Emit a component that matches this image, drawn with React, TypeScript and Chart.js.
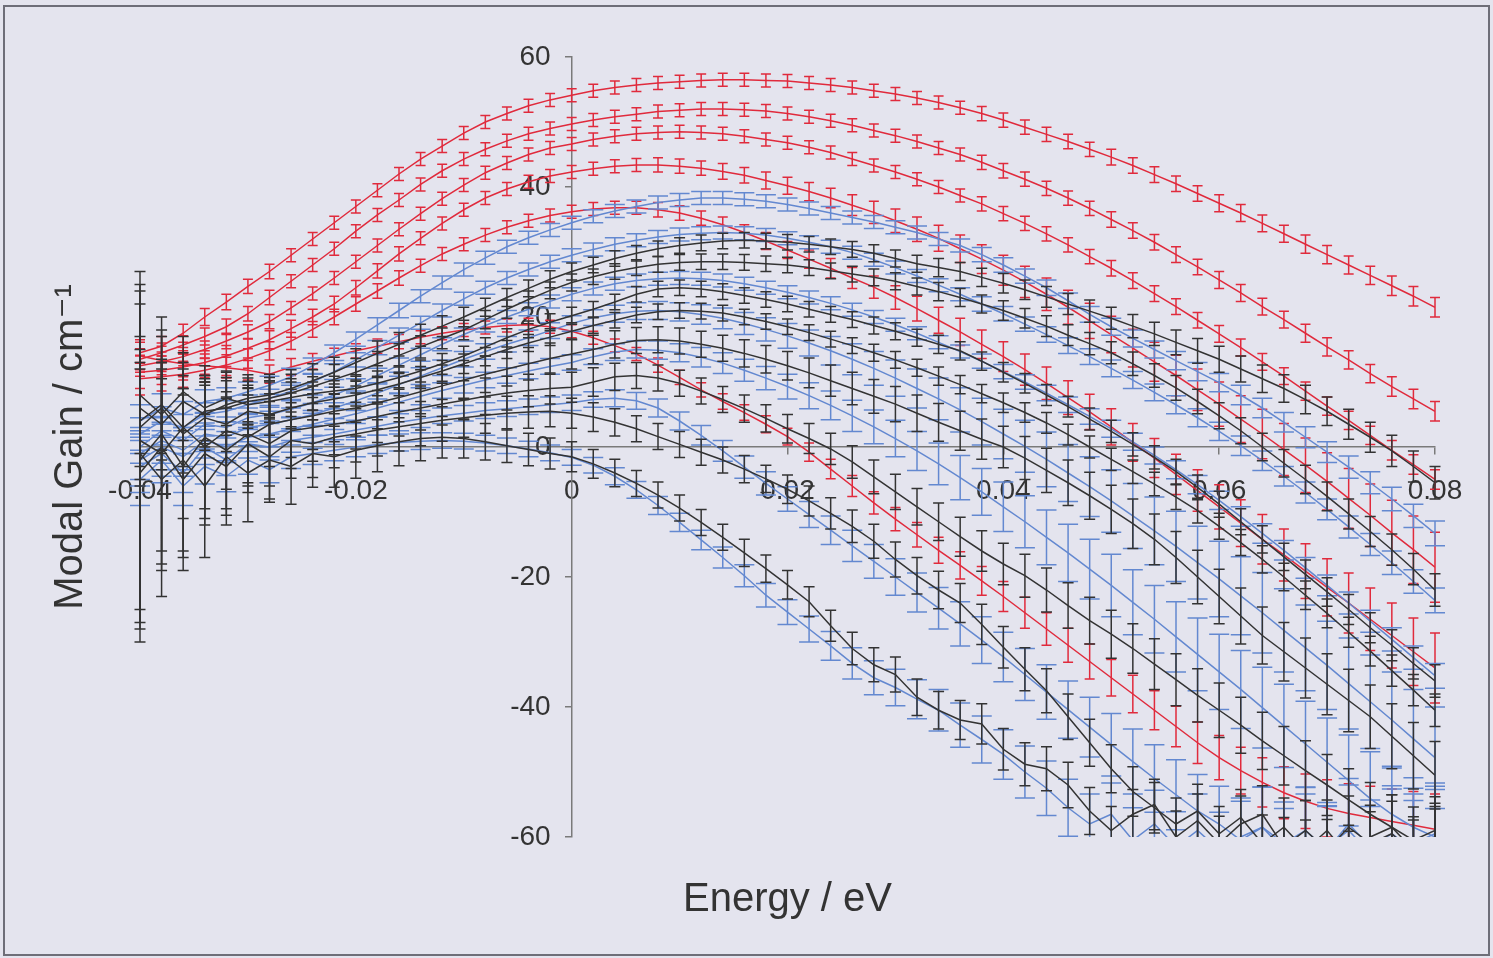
import React, { useEffect, useRef } from "react";
import { Chart, registerables } from "chart.js";

Chart.register(...registerables);

// Photon energy grid (eV)
const energy = [-0.04,-0.038,-0.036,-0.034,-0.032,-0.03,-0.028,-0.026,-0.024,-0.022,-0.02,-0.018,-0.016,-0.014,-0.012,-0.01,-0.008,-0.006,-0.004,-0.002,0,0.002,0.004,0.006,0.008,0.01,0.012,0.014,0.016,0.018,0.02,0.022,0.024,0.026,0.028,0.03,0.032,0.034,0.036,0.038,0.04,0.042,0.044,0.046,0.048,0.05,0.052,0.054,0.056,0.058,0.06,0.062,0.064,0.066,0.068,0.07,0.072,0.074,0.076,0.078,0.08];

// Red series (modal gain, cm^-1)
const red1 = [14.5,15.5,17.5,20,22.3,24.7,27,29.5,32,34.5,37,39.5,42,44.3,46.3,48.3,50,51.3,52.5,53.4,54.1,54.8,55.3,55.7,56,56.2,56.4,56.5,56.5,56.4,56.3,56,55.7,55.3,54.8,54.3,53.7,53,52.2,51.3,50.3,49.2,48.1,47,45.8,44.6,43.3,41.9,40.5,39,37.5,36,34.4,32.8,31.2,29.6,28,26.4,24.8,23.2,21.5];
const red2 = [13.5,14.5,15.7,17,18.5,20.5,23,25.5,28,30.5,33.2,35.7,38,40.4,42.5,44.3,45.8,47.1,48.2,49,49.7,50.3,50.8,51.2,51.6,51.8,52,52,51.9,51.7,51.3,50.8,50.2,49.5,48.7,47.9,47,46,45,43.8,42.5,41.2,39.8,38.3,36.7,35,33.3,31.5,29.6,27.7,25.7,23.7,21.6,19.6,17.5,15.4,13.4,11.3,9.3,7.4,5.5];
const red3 = [12.5,13.1,13.9,15,16.3,17.7,19.3,21.4,23.6,26,28.5,31,33.5,35.9,38.2,40.3,42.2,43.7,45,46,46.6,47.3,47.8,48.2,48.4,48.5,48.4,48.2,47.8,47.3,46.8,46.1,45.3,44.3,43.3,42.3,41.2,40,38.7,37.4,35.9,34.4,32.8,31.1,29.3,27.5,25.6,23.6,21.6,19.5,17.4,15.3,13.1,10.9,8.6,6.3,4.1,1.8,-0.5,-2.7,-5];
const red4 = [11.5,11.8,12.3,13,14,15.2,16.5,18.2,20,22,24.5,27.1,29.7,32.1,34.4,36.5,38.3,39.7,40.8,41.7,42.3,42.8,43.2,43.4,43.4,43.2,42.9,42.4,41.8,41,40.2,39.3,38.3,37.2,36.1,34.8,33.5,32.1,30.5,28.9,27.2,25.4,23.5,21.5,19.4,17.3,15.2,13.1,11,8.8,6.6,4.3,2,-0.4,-2.8,-5.3,-7.9,-10.5,-13.2,-15.8,-18.5];
const red5 = [10.5,10.8,11.2,11.8,12.6,13.6,14.8,16.3,18.1,20,22,24,26,27.9,29.7,31.2,32.6,33.8,34.8,35.6,36.2,36.6,36.8,36.8,36.5,36,35.2,34.2,33,31.7,30.3,28.9,27.5,26,24.6,23,21.3,19.5,17.7,15.8,13.9,11.9,9.8,7.6,5.4,3.1,0.7,-1.7,-4.2,-6.7,-9.2,-11.7,-14.2,-16.6,-19.1,-21.6,-24,-26.5,-29,-31.5,-34];
const red6 = [14,13.3,12.8,12.5,12.2,11.8,11.2,12.3,13.2,14,14.8,15.5,16.2,16.9,17.5,18,18.4,18.7,18.8,18.5,17.8,16.8,15.6,14.3,12.6,10.7,8.8,7,5.3,3.5,1.6,-0.8,-3.4,-6,-8.6,-11.1,-13.5,-15.9,-18.2,-20.6,-23,-25.5,-28,-30.5,-33,-35.5,-38,-40.5,-43,-45.5,-47.8,-49.8,-51.6,-53.2,-54.5,-55.6,-56.4,-57,-57.6,-58.2,-58.8];

// Black series
const black1 = [6,3.5,7,5,6.5,7.5,8,9,10.2,11.5,13,14.4,15.8,17.2,18.6,20,21.5,23,24.4,25.8,27,28,29,29.8,30.5,31,31.4,31.7,31.8,31.7,31.5,31.2,30.8,30.4,29.8,29,28.2,27.6,27,26.1,25.2,24.2,23.1,22,20.9,19.8,18.6,17.4,16.1,14.8,13.5,12,10.5,9,7.3,5.5,3.5,1.5,-0.6,-3,-5.5];
const black2 = [4,6.5,3,5.5,6,7,7.5,8.3,9.3,10.4,11.5,12.8,14.1,15.4,16.7,18,19.6,21.2,22.7,24.1,25.3,26.2,27,27.6,28.1,28.4,28.5,28.5,28.4,28.2,28,27.6,27.1,26.6,26.1,25.5,24.7,23.9,23,22,21,19.8,18.6,17.2,15.9,14.5,12.8,11,9.1,7,4.8,2.5,0,-2.5,-5,-7.6,-10.3,-13,-15.8,-18.8,-22];
const black3 = [8,5,8.5,6,7.5,6.5,7,7.6,8.2,8.6,9,9.8,10.7,11.7,12.8,14,15.4,16.8,18.1,19.2,20.2,21.2,22.3,23.5,24.3,24.5,24.3,23.9,23.3,22.7,22,21.2,20.4,19.6,18.7,17.8,16.8,15.8,14.8,13.2,11.5,9.8,8,6.2,4.3,2.4,0.4,-1.6,-3.8,-6.2,-8.8,-11.5,-14.2,-16.9,-19.6,-22.3,-25,-27.8,-30.5,-33.3,-36];
const black4 = [3,6,2,4.5,3.5,5.5,5,6,6.8,7.4,8,8.8,9.7,10.7,11.7,12.8,13.9,15,16,16.9,17.8,18.7,19.5,20.3,20.8,21,20.9,20.6,20,19.3,18.5,17.6,16.6,15.6,14.5,13.4,12.2,10.9,9.6,8.2,6.8,5.3,3.7,1.9,0,-1.9,-3.8,-5.7,-7.7,-9.8,-12.2,-14.7,-17.3,-20,-22.8,-25.6,-28.5,-31.4,-34.4,-37.4,-40.5];
const black5 = [1,-1,3,0,2.5,1.5,3.5,4.2,4.8,5.5,6,6.8,7.6,8.5,9.4,10.3,11.2,12,12.8,13.6,14.3,15,15.8,16.4,16.5,16.3,15.8,15.2,14.4,13.5,12.5,11.4,10.2,9,7.8,6.6,5.2,3.8,2.5,1.2,0,-1.7,-3.6,-5.5,-7.5,-9.6,-11.8,-14.2,-17,-20,-23,-26,-29,-31.5,-34,-36.5,-39,-41.5,-44.5,-47.5,-50.5];
const black6 = [-2,2,-3,1.5,-0.5,2,0.5,2.5,3,3.5,4,4.7,5.4,6,6.6,7.2,7.8,8.3,8.7,9,9.2,10,10.8,11,10.6,9.8,8.6,7.3,5.9,4.4,2.8,1.3,-0.3,-2.3,-4.6,-6.9,-9.2,-11.5,-13.8,-16,-18,-19.8,-22,-24.4,-26.7,-28.8,-31,-33.4,-35.8,-38.2,-40.5,-42.8,-45.2,-47.5,-49.8,-52,-54.3,-56.5,-58.5,-60.5,-59];
const black7 = [-4,0,-5,-1,-3,0.5,-1.5,1,0.5,1.5,2,2.6,3.1,3.6,4.1,4.5,4.9,5.2,5.4,5.5,5.2,4.6,3.8,2.8,1.6,0.4,-0.8,-2,-3.4,-4.9,-6.5,-8.3,-10.2,-12.2,-14.5,-17.3,-19.8,-22,-24,-27.3,-30.8,-34.2,-37.5,-41.5,-45.5,-49.5,-53,-55.5,-58,-56,-59.5,-57,-61,-58.5,-62,-59,-63,-60,-58.5,-62,-60.5];
const black8 = [-1,-5,-2,-6,-1.5,-4,-2,-3,-1,-1.5,-0.5,0.2,0.8,1.3,1.5,1.3,0.8,0.2,-0.4,-1,-1.5,-2.6,-4,-5.6,-7.4,-9.4,-11.6,-13.9,-16.3,-18.7,-21.2,-23.8,-27.5,-31,-33.5,-35,-38.5,-40.5,-42,-42.6,-46.5,-48.8,-49.5,-52,-56,-59,-56.5,-55,-60,-57.5,-61,-58,-56.5,-61.5,-59,-62,-58.5,-61,-59.5,-62.5,-60];

// Blue series
const blue1 = [4,6,5,7,7.5,8.5,9.5,10.8,12.5,14.5,16.6,18.8,21,23.2,25.3,27.3,29.1,30.8,32.2,33.4,34.5,35.5,36.3,37,37.6,38,38.3,38.3,38.1,37.8,37.3,36.7,36,35.3,34.6,33.8,33,32,31,29.6,28,26.3,24.5,22.5,20.4,18.5,16.7,15,13.3,11.6,9.9,8,6,3.8,1.5,-0.8,-3.1,-5.5,-8,-10.6,-13.3];
const blue2 = [2,4,3,5,5.5,6.5,7.5,8.6,10,11.6,13.4,15.3,17.2,19.1,21,22.8,24.5,26,27.3,28.5,29.5,30.4,31.2,31.8,32.3,32.7,32.9,33,32.9,32.6,32.1,31.5,30.8,29.9,28.8,27.6,26.3,24.9,23.5,22,20.5,18.9,17.3,15.6,13.9,12.1,10.3,8.4,6.5,4.5,2.4,0.2,-2.1,-4.5,-7,-9.6,-12.3,-15,-17.8,-20.7,-23.6];
const blue3 = [0,2.5,1,3.5,3,4.5,5,5.8,6.8,8,9.4,11,12.6,14.2,15.8,17.3,18.7,20,21.2,22.4,23.5,24.4,25.1,25.6,25.9,26,25.9,25.6,25.1,24.5,23.8,23,22.1,21.1,20,18.8,17.5,16.1,14.7,13.2,11.6,10,8.3,6.5,4.7,2.8,0.8,-1.3,-3.5,-5.8,-8.2,-10.7,-13.3,-15.9,-18.6,-21.3,-24,-26.8,-29.6,-32.4,-35.2];
const blue4 = [-1,1,-0.5,2,1.5,3,3.5,4.2,5,6,7.1,8.3,9.6,10.9,12.2,13.5,14.7,15.8,16.8,17.9,19,19.9,20.5,20.9,21,20.8,20.4,19.8,19,18.1,17.1,16,14.8,13.5,12.1,10.6,9,7.4,5.7,3.9,2,0.1,-1.9,-4,-6.1,-8.3,-10.6,-12.9,-15.3,-17.8,-20.3,-22.9,-25.5,-28.2,-30.9,-33.6,-36.4,-39.2,-42,-44.9,-47.8];
const blue5 = [-2,0,-1.5,1,0,1.5,2,2.8,3.5,4.3,5.1,6,6.9,7.8,8.7,9.5,10.3,11,11.7,12.4,13,13.9,14.6,15,14.9,14.5,13.8,12.9,11.8,10.6,9.3,7.9,6.4,4.8,3.1,1.3,-0.6,-2.6,-4.7,-6.9,-9.2,-11.5,-13.9,-16.3,-18.8,-21.3,-23.9,-26.5,-29.2,-31.9,-34.6,-37.3,-40.1,-42.9,-45.7,-48.5,-51.3,-54.1,-56.5,-58.5,-60];
const blue6 = [-3,-1,-4,0,-2,0.5,0,1,1.5,2,2.6,3.2,3.8,4.3,4.8,5.2,5.6,5.9,6.2,6.5,6.8,7.3,7.5,7.1,6,4,1.8,-0.6,-3.1,-5.6,-8,-10.4,-12.8,-15.2,-17.6,-20,-22.4,-24.8,-27.2,-29.7,-32.3,-35,-37.7,-40.4,-43.1,-45.8,-48.4,-51,-53.5,-56,-58,-60.5,-58.5,-61,-59,-62,-58,-61.5,-59.5,-62,-60.5];
const blue7 = [-5,-2,-6,-3,-4.5,-2,-3.5,-1.5,-1,-0.5,0,0.4,0.7,0.9,1,0.9,0.6,0.2,-0.3,-0.9,-1.6,-2.8,-4.5,-6.6,-9,-11.6,-14.3,-17,-19.8,-22.8,-25.4,-28,-30.6,-33.3,-35.5,-37,-38.8,-40.5,-42.8,-45,-47.3,-50,-52.5,-55.5,-58,-56.5,-60.5,-58,-61.5,-59,-62,-60,-58.5,-62,-60,-61.5,-59,-62.5,-60,-61,-59.5];

// Error (half-height of error bars, cm^-1)
const errRedHigh = [1.6,1.5,1.4,1.3,1.2,1.1,1.1,1,1,1,1,1,1,1,1,1,1,1,1,1,1,1,1,1,1,1,1,1,1,1,1,1,1,1,1,1,1,1,1,1.1,1.1,1.1,1.1,1.1,1.1,1.2,1.2,1.2,1.2,1.2,1.3,1.3,1.3,1.3,1.4,1.4,1.4,1.4,1.5,1.5,1.5];
const errRedLow = [2.5,2.2,2,1.8,1.6,1.5,1.4,1.3,1.2,1.2,1.1,1.1,1.1,1,1,1,1,1,1,1,1,1,1,1,1.1,1.1,1.1,1.2,1.2,1.3,1.3,1.4,1.5,1.6,1.7,1.8,1.9,2,2.1,2.2,2.3,2.4,2.5,2.6,2.7,2.8,2.9,3,3.1,3.2,3.4,3.6,3.8,4,4.2,4.4,4.6,4.8,5,5.2,5.4];
const errBlackHigh = [9,7,6,5,4.2,3.6,3.2,2.9,2.6,2.3,2.1,1.9,1.8,1.7,1.6,1.5,1.4,1.4,1.3,1.3,1.3,1.2,1.2,1.2,1.2,1.2,1.2,1.2,1.2,1.2,1.2,1.2,1.2,1.2,1.3,1.3,1.3,1.4,1.4,1.4,1.5,1.5,1.6,1.6,1.7,1.7,1.8,1.8,1.9,1.9,2,2,2.1,2.1,2.2,2.2,2.3,2.3,2.4,2.4,2.5];
const errBlackLow = [26,18,14,11,9,7.5,6.5,5.8,5.2,4.7,4.3,4,3.7,3.4,3.2,3,2.8,2.6,2.5,2.4,2.3,2.2,2.1,2,2,2,2,2,2.1,2.1,2.2,2.3,2.4,2.5,2.6,2.7,2.8,2.9,3,3.1,3.2,3.3,3.4,3.5,3.6,3.7,3.8,3.9,4,4.1,4.2,4.3,4.4,4.5,4.6,4.7,4.8,4.9,5,5.1,5.2];
const errBlueHigh = [2.5,2.2,2,1.8,1.6,1.5,1.4,1.3,1.2,1.2,1.1,1.1,1.1,1,1,1,1,1,1,1,1,1,1,1,1,1,1,1,1,1,1,1,1,1,1,1,1,1,1,1.1,1.1,1.1,1.2,1.2,1.2,1.3,1.3,1.3,1.4,1.4,1.4,1.5,1.5,1.5,1.6,1.6,1.7,1.7,1.8,1.8,1.9];
const errBlueLow = [4,3.5,3,2.7,2.4,2.2,2,1.8,1.7,1.6,1.5,1.4,1.3,1.3,1.2,1.2,1.2,1.2,1.2,1.2,1.2,1.2,1.3,1.3,1.4,1.4,1.5,1.6,1.7,1.8,1.9,2,2.2,2.4,2.6,2.8,3,3.2,3.4,3.6,3.8,4,4.2,4.4,4.6,4.8,5,5.2,5.4,5.6,5.8,6,6.2,6.4,6.6,6.8,7,7.2,7.4,7.6,7.8];

const xTicks = [-0.04, -0.02, 0, 0.02, 0.04, 0.06, 0.08];

const RED = "#e02a3c";
const BLACK = "#333333";
const BLUE = "#6388d0";
const FONT = "'Liberation Sans', Arial, 'DejaVu Sans', sans-serif";

function series(label: string, vals: number[], color: string, errors: number[], cap: number) {
  return {
    label,
    data: energy.map((x, i) => ({ x, y: vals[i] })),
    borderColor: color,
    backgroundColor: color,
    borderWidth: 1.5,
    pointRadius: 0,
    fill: false,
    tension: 0,
    clip: 0,
    errors,
    capWidth: cap,
  };
}

const bgPlugin = {
  id: "bgFrame",
  beforeDraw(chart: any) {
    const { ctx, width, height } = chart;
    ctx.save();
    ctx.fillStyle = "#e4e4ee";
    ctx.fillRect(0, 0, width, height);
    ctx.strokeStyle = "#6e6e78";
    ctx.lineWidth = 2;
    ctx.strokeRect(4, 6, width - 8, height - 9);
    ctx.restore();
  },
};

// Moves the y tick labels of the centred axis a little to the left of the axis line
const yLabelShift = {
  id: "yLabelShift",
  beforeDraw(chart: any) {
    const s = chart.scales.y;
    if (!s || !s.getLabelItems) return;
    const items = s.getLabelItems(chart.chartArea);
    items.forEach((it: any) => {
      if (!it.__shifted && it.options && it.options.translation) {
        it.options.translation[0] -= 21;
        it.__shifted = true;
      }
    });
  },
};

const errorBarPlugin = {
  id: "errorBars",
  afterDatasetDraw(chart: any, args: any) {
    const ds = chart.data.datasets[args.index];
    if (!ds || !ds.errors) return;
    const { ctx, chartArea: a } = chart;
    const xs = chart.scales.x;
    const ys = chart.scales.y;
    ctx.save();
    ctx.beginPath();
    ctx.rect(a.left - 10, a.top, a.right - a.left + 20, a.bottom - a.top);
    ctx.clip();
    ctx.strokeStyle = ds.borderColor;
    ctx.lineWidth = 1.5;
    ctx.beginPath();
    const h = ds.capWidth / 2;
    ds.data.forEach((p: any, i: number) => {
      const e = ds.errors[i];
      const px = xs.getPixelForValue(p.x);
      const y1 = ys.getPixelForValue(p.y + e);
      const y2 = ys.getPixelForValue(p.y - e);
      ctx.moveTo(px, y1);
      ctx.lineTo(px, y2);
      ctx.moveTo(px - h, y1);
      ctx.lineTo(px + h, y1);
      ctx.moveTo(px - h, y2);
      ctx.lineTo(px + h, y2);
    });
    ctx.stroke();
    ctx.restore();
  },
};

export default function App() {
  const ref = useRef<HTMLCanvasElement | null>(null);

  useEffect(() => {
    if (!ref.current) return;
    Chart.defaults.font.family = FONT;
    const datasets: any[] = [
      series("B1", black1, BLACK, errBlackHigh, 11),
      series("B2", black2, BLACK, errBlackHigh, 11),
      series("B3", black3, BLACK, errBlackHigh, 11),
      series("B4", black4, BLACK, errBlackHigh, 11),
      series("B5", black5, BLACK, errBlackLow, 11),
      series("B6", black6, BLACK, errBlackLow, 11),
      series("B7", black7, BLACK, errBlackLow, 11),
      series("B8", black8, BLACK, errBlackLow, 11),
      series("L1", blue1, BLUE, errBlueHigh, 20),
      series("L2", blue2, BLUE, errBlueHigh, 20),
      series("L3", blue3, BLUE, errBlueHigh, 20),
      series("L4", blue4, BLUE, errBlueLow, 20),
      series("L5", blue5, BLUE, errBlueLow, 20),
      series("L6", blue6, BLUE, errBlueLow, 20),
      series("L7", blue7, BLUE, errBlueLow, 20),
      series("R1", red1, RED, errRedHigh, 10),
      series("R2", red2, RED, errRedHigh, 10),
      series("R3", red3, RED, errRedHigh, 10),
      series("R4", red4, RED, errRedLow, 10),
      series("R5", red5, RED, errRedLow, 10),
      series("R6", red6, RED, errRedLow, 10),
    ];
    const chart = new Chart(ref.current, {
      type: "line",
      data: { datasets },
      options: {
        responsive: false,
        animation: false,
        events: [],
        parsing: false as any,
        layout: { padding: { left: 10, top: 57, right: 58, bottom: 10 } },
        plugins: { legend: { display: false }, tooltip: { enabled: false } },
        scales: {
          x: {
            type: "linear",
            min: -0.04,
            max: 0.08,
            position: { y: 0 } as any,
            afterBuildTicks: (scale: any) => {
              scale.ticks = xTicks.map((v) => ({ value: v }));
            },
            ticks: {
              color: "#333",
              font: { size: 28 },
              padding: 20,
              maxRotation: 0,
              autoSkip: false,
              callback: (v: any) => (Math.abs(Number(v)) < 1e-9 ? "0" : Number(v).toFixed(2)),
            },
            grid: { display: true, drawOnChartArea: false, drawTicks: true, tickLength: 7, color: "#7a7a7a", lineWidth: 1.5 },
            border: { display: true, color: "#7a7a7a", width: 1.5 },
          },
          y: {
            type: "linear",
            min: -60,
            max: 60,
            position: { x: 0 } as any,
            ticks: { stepSize: 20, color: "#333", font: { size: 28 }, padding: 15 },
            grid: { display: true, drawOnChartArea: false, drawTicks: true, tickLength: 6, color: "#7a7a7a", lineWidth: 1.5 },
            border: { display: true, color: "#7a7a7a", width: 1.5 },
          },
          yt: {
            type: "linear",
            axis: "y",
            position: "left",
            ticks: { display: false },
            grid: { display: false, drawTicks: false },
            border: { display: false },
            title: {
              display: true,
              text: "Modal Gain / cm\u207B\u00B9",
              color: "#333",
              font: { size: 40 },
              padding: { top: 37, bottom: 45 },
            },
          } as any,
          xt: {
            type: "linear",
            axis: "x",
            position: "bottom",
            ticks: { display: false },
            grid: { display: false, drawTicks: false },
            border: { display: false },
            title: {
              display: true,
              text: "Energy / eV",
              color: "#333",
              font: { size: 40 },
              padding: { top: 39, bottom: 24 },
            },
          } as any,
        },
      },
      plugins: [bgPlugin, yLabelShift, errorBarPlugin],
    });
    return () => chart.destroy();
  }, []);

  return (
    <div style={{ position: "fixed", left: 0, top: 0, width: 1493, height: 958 }}>
      <canvas ref={ref} width={1493} height={958} style={{ display: "block" }} />
    </div>
  );
}
